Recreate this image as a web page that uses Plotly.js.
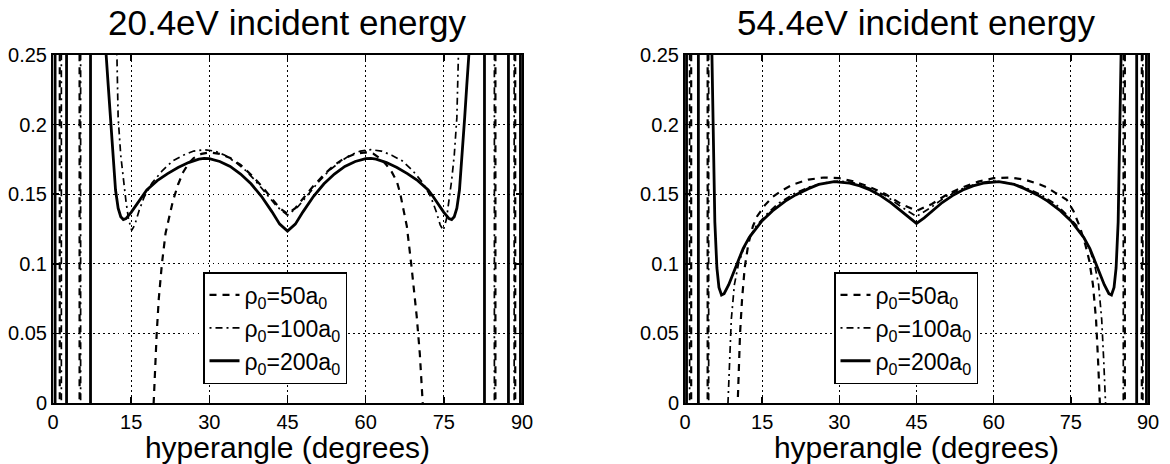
<!DOCTYPE html>
<html><head><meta charset="utf-8">
<script src="https://cdn.plot.ly/plotly-3.0.1.min.js"></script>
<style>html,body{margin:0;padding:0;background:#fff}#chart{width:1170px;height:464px}</style>
</head><body><div id="chart"></div>
<script>
// ---------- data ----------
const panelTitles = ["20.4eV incident energy", "54.4eV incident energy"];
const seriesNames = ["ρ<sub>0</sub>=50a<sub>0</sub>", "ρ<sub>0</sub>=100a<sub>0</sub>", "ρ<sub>0</sub>=200a<sub>0</sub>"];
const xTickVals = [0, 15, 30, 45, 60, 75, 90];
const yTickVals = [0, 0.05, 0.1, 0.15, 0.2, 0.25];
const yTickText = ["0", "0.05", "0.1", "0.15", "0.2", "0.25"];

// 20.4 eV, rho0 = 50 a0 (dashed)
const e20_r50_x = [1.3,1.3,null,5.1,5.1,null,
  19.2,19.3,19.6,19.9,20.3,20.9,21.6,22.3,23.0,24,25,26,27,28.5,30,32,34,36,38,40,42,43.5,45,
  46.5,48,50,52,54,56,58,60,61.5,63,64,65,66,66.6,67.3,67.9,68.8,69.8,70.4,71.0,71.1,
  null,84.9,84.9,null,88.7,88.7];
const e20_r50_y = [-0.1,0.4,null,-0.1,0.4,null,
  -0.01,0,0.025,0.05,0.075,0.1,0.122,0.134,0.145,0.157,0.166,0.172,0.176,0.179,0.180,0.179,0.176,0.171,0.164,0.156,0.147,0.140,0.136,
  0.140,0.147,0.156,0.164,0.171,0.176,0.179,0.180,0.179,0.175,0.171,0.166,0.159,0.151,0.139,0.127,0.098,0.062,0.035,0.0,-0.01,
  null,-0.1,0.4,null,-0.1,0.4];

// 20.4 eV, rho0 = 100 a0 (dash-dot)
const e20_r100_x = [1.6,1.6,null,5.3,5.3,null,
  12.0,12.2,12.5,13.0,13.5,14.0,14.5,15.1,15.7,16.5,17.5,19,21,23,25,27,29,31,33,35,37,39,41,43,45,
  47,49,51,53,55,57,59,61,63,65,67,69,71,72.5,73.5,74.3,74.9,75.5,76.0,76.5,77.0,77.5,77.8,78.0,
  null,84.7,84.7,null,88.5,88.5];
const e20_r100_y = [-0.1,0.4,null,-0.1,0.4,null,
  0.30,0.25,0.205,0.178,0.160,0.145,0.132,0.124,0.128,0.138,0.148,0.158,0.167,0.174,0.178,0.181,0.182,0.181,0.178,0.173,0.167,0.159,0.150,0.141,0.135,
  0.141,0.150,0.159,0.167,0.173,0.178,0.181,0.182,0.181,0.178,0.174,0.167,0.158,0.148,0.138,0.128,0.124,0.132,0.145,0.160,0.178,0.205,0.25,0.30,
  null,-0.1,0.4,null,-0.1,0.4];

// 20.4 eV, rho0 = 200 a0 (solid)
const e20_r200_x = [0.4,0.4,null,2.6,2.6,null,7.2,7.2,null,
  10.0,10.2,10.6,11.0,11.5,12.0,12.5,13.0,13.5,14.0,15,16,17,18,20,22,24,26,28,29,30,32,34,36,38,40,42,43.5,45,
  46.5,48,50,52,54,56,58,60,61,62,64,66,68,70,72,73,74,75,76,76.5,77,77.5,78,78.5,79,79.4,79.8,80.0,
  null,82.8,82.8,null,87.4,87.4,null,89.7,89.7];
const e20_r200_y = [-0.1,0.4,null,-0.1,0.4,null,-0.1,0.4,null,
  0.30,0.25,0.228,0.205,0.177,0.153,0.140,0.1338,0.1318,0.1325,0.137,0.1425,0.148,0.153,0.1597,0.1648,0.1692,0.1727,0.1752,0.1757,0.1755,0.1735,0.170,0.1645,0.1575,0.1485,0.1375,0.1285,0.1235,
  0.1285,0.1375,0.1485,0.1575,0.1645,0.170,0.1735,0.1755,0.1757,0.1752,0.1727,0.1692,0.1648,0.1597,0.153,0.148,0.1425,0.137,0.1325,0.1318,0.1338,0.140,0.153,0.177,0.205,0.228,0.25,0.30,
  null,-0.1,0.4,null,-0.1,0.4,null,-0.1,0.4];

// 54.4 eV, rho0 = 50 a0 (dashed)
const e54_r50_x = [1.2,1.2,null,4.4,4.4,null,
  10.2,10.4,10.7,11.1,11.6,12.3,13.2,14,15.5,17,19,21,24,27,30,33,36,39,42,45,
  48,51,54,57,60,63,66,69,70.3,72,74.2,75.5,76.8,77.8,78.6,79.3,79.9,80.3,80.7,
  null,85.5,85.5,null,88.8,88.8];
const e54_r50_y = [-0.1,0.4,null,-0.1,0.4,null,
  -0.005,0.02,0.05,0.075,0.097,0.114,0.127,0.134,0.142,0.148,0.153,0.157,0.1605,0.162,0.1615,0.159,0.155,0.150,0.143,0.138,
  0.143,0.150,0.155,0.159,0.1615,0.162,0.1605,0.157,0.155,0.151,0.146,0.138,0.126,0.114,0.102,0.085,0.06,0.03,-0.005,
  null,-0.1,0.4,null,-0.1,0.4];

// 54.4 eV, rho0 = 100 a0 (dash-dot)
const e54_r100_x = [0.9,0.9,null,4.6,4.6,null,
  8.3,8.6,9.0,9.6,10.4,11.3,12.5,14,16,18,21,24,27,30,33,36,39,42,45,
  48,51,54,57,60,63,66,69,72,74,76,77.5,78.7,79.6,80.4,81.0,81.4,81.8,
  null,85.2,85.2,null,89.0,89.0];
const e54_r100_y = [-0.1,0.4,null,-0.1,0.4,null,
  -0.005,0.03,0.06,0.085,0.100,0.110,0.119,0.128,0.136,0.143,0.150,0.155,0.158,0.1595,0.158,0.154,0.149,0.141,0.134,
  0.141,0.149,0.154,0.158,0.1595,0.158,0.155,0.150,0.143,0.136,0.128,0.119,0.110,0.100,0.085,0.06,0.03,-0.005,
  null,-0.1,0.4,null,-0.1,0.4];

// 54.4 eV, rho0 = 200 a0 (solid)
const e54_r200_x = [0.3,0.3,null,2.6,2.6,null,
  5.0,5.2,5.5,5.8,6.2,6.6,7.1,7.6,8.5,9.4,10.0,11.3,12.5,13.9,15,17,19.5,21.5,24,26,29,32,34,36,38,40,42,43.5,45,
  46.5,48,50,52,54,56,58,61,64,66,68.5,70.5,73,75,76.1,77.5,78.7,80,80.6,81.5,82.4,82.9,83.4,83.8,84.2,84.5,84.8,85.0,
  null,87.8,87.8,null,89.7,89.7];
const e54_r200_y = [-0.1,0.4,null,-0.1,0.4,null,
  0.30,0.25,0.185,0.13,0.097,0.083,0.0776,0.0785,0.085,0.093,0.099,0.111,0.119,0.126,0.131,0.138,0.145,0.1495,0.154,0.157,0.159,0.158,0.156,0.153,0.149,0.144,0.138,0.133,0.129,
  0.133,0.138,0.144,0.149,0.153,0.156,0.158,0.159,0.157,0.154,0.1495,0.145,0.138,0.131,0.126,0.119,0.111,0.099,0.093,0.085,0.0785,0.0776,0.083,0.097,0.13,0.185,0.25,0.30,
  null,-0.1,0.4,null,-0.1,0.4];

// ---------- styling ----------
const FONT = "Liberation Sans, Arial, Helvetica, sans-serif";
const styles = [
  {width: 2.2, dash: "7px,6px"},
  {width: 1.7, dash: "2px,4px,7px,4px"},
  {width: 2.8, dash: "solid"}
];

function mk(x, y, k, xa, ya, leg) {
  return {
    type: "scatter", mode: "lines", x: x, y: y, name: seriesNames[k],
    xaxis: xa, yaxis: ya, legend: leg, connectgaps: false,
    line: {color: "#000", width: styles[k].width, dash: styles[k].dash},
    hoverinfo: "skip"
  };
}

const traces = [
  mk(e20_r50_x, e20_r50_y, 0, "x", "y", "legend"),
  mk(e20_r100_x, e20_r100_y, 1, "x", "y", "legend"),
  mk(e20_r200_x, e20_r200_y, 2, "x", "y", "legend"),
  mk(e54_r50_x, e54_r50_y, 0, "x2", "y2", "legend2"),
  mk(e54_r100_x, e54_r100_y, 1, "x2", "y2", "legend2"),
  mk(e54_r200_x, e54_r200_y, 2, "x2", "y2", "legend2")
];

const W = 1170, H = 464;
const dL = [53 / W, 522 / W], dR = [685 / W, 1148 / W];
const dY = [(H - 403) / H, (H - 55) / H];

function xax(dom, anchor) {
  return {
    domain: dom, anchor: anchor, range: [0, 90], tickvals: xTickVals, ticktext: xTickVals.map(String),
    showline: true, linecolor: "#000", linewidth: 2, mirror: "ticks",
    ticks: "inside", ticklen: 6, tickwidth: 1.5, tickcolor: "#000",
    showgrid: true, gridcolor: "#000", gridwidth: 1, griddash: "1.5px,3.5px",
    zeroline: false, fixedrange: true,
    tickfont: {family: FONT, size: 20, color: "#000"},
    title: {text: "hyperangle (degrees)", font: {family: FONT, size: 30, color: "#000"}, standoff: 4}
  };
}
function yax(anchor) {
  return {
    domain: dY, anchor: anchor, range: [0, 0.25], tickvals: yTickVals, ticktext: yTickText,
    showline: true, linecolor: "#000", linewidth: 2, mirror: "ticks",
    ticks: "inside", ticklen: 6, tickwidth: 1.5, tickcolor: "#000",
    showgrid: true, gridcolor: "#000", gridwidth: 1, griddash: "1.5px,3.5px",
    zeroline: false, fixedrange: true,
    tickfont: {family: FONT, size: 20, color: "#000"}
  };
}
function leg(xpx) {
  return {
    x: xpx / W, y: (H - 272) / H, xanchor: "left", yanchor: "top",
    bgcolor: "#fff", bordercolor: "#000", borderwidth: 1.5,
    font: {family: FONT, size: 23, color: "#000"}, tracegroupgap: 0, itemwidth: 30
  };
}

const layout = {
  width: W, height: H, margin: {l: 0, r: 0, t: 0, b: 0},
  paper_bgcolor: "#fff", plot_bgcolor: "#fff",
  font: {family: FONT, color: "#000"},
  xaxis: xax(dL, "y"), yaxis: yax("x"),
  xaxis2: xax(dR, "y2"), yaxis2: yax("x2"),
  legend: leg(203), legend2: leg(834),
  annotations: [
    {text: panelTitles[0], xref: "paper", yref: "paper", x: (dL[0] + dL[1]) / 2, y: 1 - 22 / H,
     xanchor: "center", yanchor: "middle", showarrow: false, font: {family: FONT, size: 35, color: "#000"}},
    {text: panelTitles[1], xref: "paper", yref: "paper", x: (dR[0] + dR[1]) / 2, y: 1 - 22 / H,
     xanchor: "center", yanchor: "middle", showarrow: false, font: {family: FONT, size: 35, color: "#000"}}
  ]
};

Plotly.newPlot("chart", traces, layout, {staticPlot: true, displayModeBar: false});
</script></body></html>
